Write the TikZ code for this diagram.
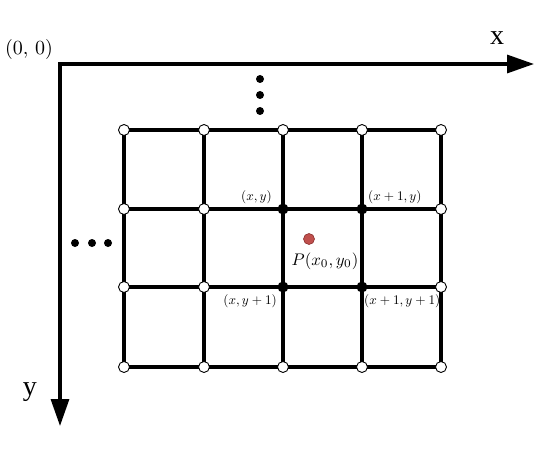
\documentclass[tikz,border=0pt]{standalone}
\usepackage{fontspec}
\usetikzlibrary{arrows.meta}
\newfontfamily\axisfont{Liberation Serif}
\definecolor{pred}{RGB}{192,80,77}
\definecolor{pedge}{RGB}{140,50,48}
\newcommand{\smallmath}[1]{\scalebox{1.32}{$#1$}}
\begin{document}
\begin{tikzpicture}[x=1pt,y=-1pt,
  gridline/.style={line width=3.2pt},
  axisline/.style={line width=3.2pt,line join=miter},
  opendot/.style={circle,draw,fill=white,line width=0.9pt,minimum size=11pt,inner sep=0pt},
  fulldot/.style={circle,fill=black,minimum size=11pt,inner sep=0pt},
  ellipsisdot/.style={circle,fill=black,minimum size=8pt,inner sep=0pt},
  smalllabel/.style={inner sep=0pt},
]
\useasboundingbox (0,0) rectangle (536,460);
% axes
\coordinate (O) at (60,64);
\coordinate (xe) at (534,64);
\coordinate (ye) at (60,426);
\draw[axisline,{Triangle[length=27pt,width=18pt]}-{Triangle[length=27pt,width=18pt]}] (ye) -- (O) -- (xe);
\node[inner sep=0pt] (lo) at (29,50) {\scalebox{2.0}{$(0,\,0)$}};
\node[inner sep=0pt] (lx) at (497,38) {\axisfont\fontsize{28}{30}\selectfont x};
\node[inner sep=0pt] (ly) at (30,392) {\axisfont\fontsize{28}{30}\selectfont y};
% grid coordinates
\foreach \i/\xx in {0/124,1/204,2/283,3/362,4/441}
  \foreach \j/\yy in {0/130,1/209,2/287,3/367}
    \coordinate (g\i\j) at (\xx,\yy);
\foreach \i in {0,...,4} \draw[gridline] (g\i0) -- (g\i3);
\foreach \j in {0,...,3} \draw[gridline] (g0\j) -- (g4\j);
% grid points
\foreach \i/\j in {0/0,1/0,2/0,3/0,4/0,0/1,1/1,4/1,0/2,1/2,4/2,0/3,1/3,2/3,3/3,4/3}
  \node[opendot] (n\i\j) at (g\i\j) {};
\foreach \i/\j in {2/1,3/1,2/2,3/2}
  \node[fulldot] (n\i\j) at (g\i\j) {};
% ellipsis dots
\node[ellipsisdot] (v1) at (260,79) {};
\node[ellipsisdot] (v2) at (260,95) {};
\node[ellipsisdot] (v3) at (260,111) {};
\node[ellipsisdot] (h1) at (75,243) {};
\node[ellipsisdot] (h2) at (92,243) {};
\node[ellipsisdot] (h3) at (108,243) {};
% point P
\node[circle,fill=pred,draw=pedge,line width=0.6pt,minimum size=11pt,inner sep=0pt] (P) at (309,239) {};
\node[inner sep=0pt] (lP) at (325,261) {\scalebox{1.68}{$P(x_0,y_0)$}};
% labels
\node[smalllabel,anchor=east] (l21) at (272,197) {\smallmath{(x,y)}};
\node[smalllabel,anchor=west] (l31) at (368,197) {\smallmath{(x+1,y)}};
\node[smalllabel,anchor=east] (l22) at (277,301) {\smallmath{(x,y+1)}};
\node[smalllabel,anchor=west] (l32) at (364,301) {\smallmath{(x+1,y+1)}};
\end{tikzpicture}
\end{document}
